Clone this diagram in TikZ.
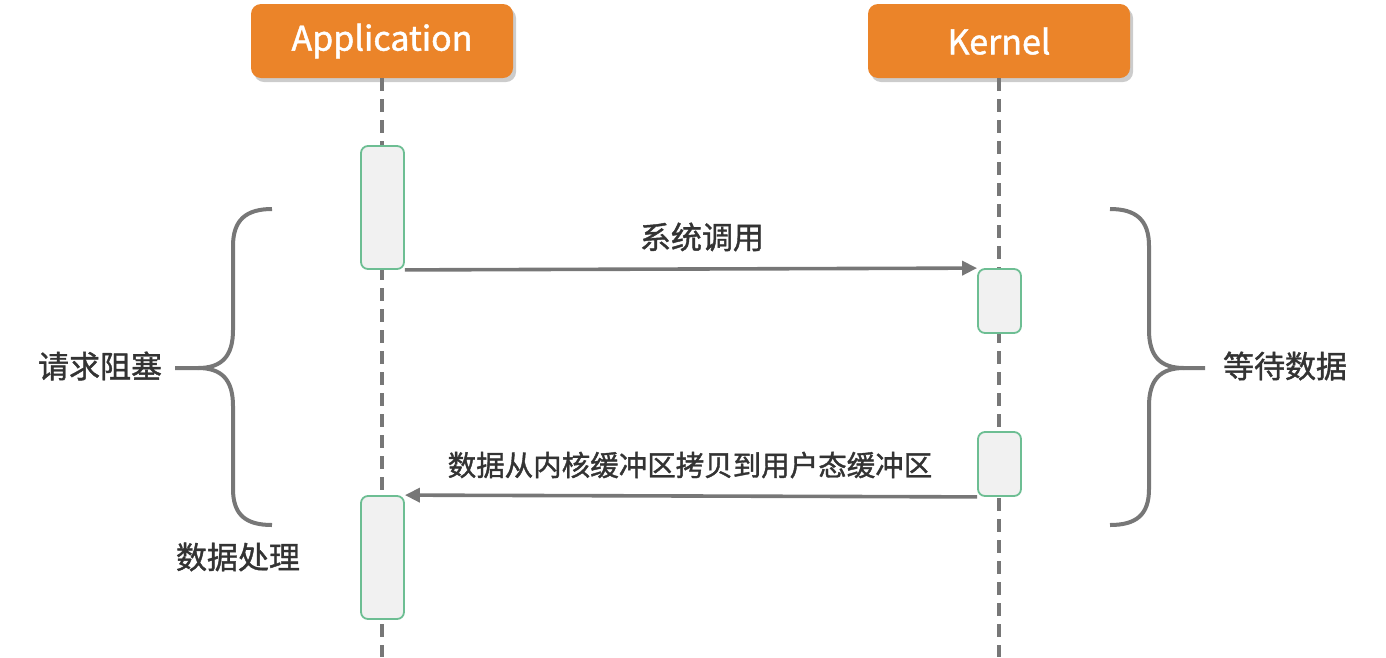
\documentclass[tikz,border=0pt]{standalone}
\usepackage{fontspec}
\setmainfont{Noto Sans CJK SC}
\newfontfamily\medf{Noto Sans CJK SC}[FakeBold=1.3]
\usetikzlibrary{arrows.meta,shadows}
\definecolor{hdr}{HTML}{EB8429}
\definecolor{actb}{HTML}{6DBE93}
\definecolor{actf}{HTML}{F1F1F1}
\definecolor{ln}{HTML}{777777}
\definecolor{txt}{HTML}{333333}
\tikzset{
  header/.style={draw=none, fill=hdr, rounded corners=10pt, minimum width=262pt, minimum height=74pt,
    text=white, font=\medf\fontsize{34}{36}\selectfont, inner sep=0pt,
    drop shadow={shadow xshift=3pt, shadow yshift=-4pt, opacity=0.2, fill=black}},
  act/.style={draw=actb, fill=actf, line width=1.8pt, rounded corners=7pt, minimum width=43pt, inner sep=0pt},
  life/.style={draw=ln, line width=3.6pt, dash pattern=on 13pt off 8pt},
  msg/.style={draw=ln, line width=3.6pt, -{Triangle[length=15pt,width=14pt]}},
  lbl/.style={text=txt, font=\medf\fontsize{31}{34}\selectfont, inner sep=0pt},
  brace/.style={draw=ln, line width=4pt}
}
\begin{document}
\begin{tikzpicture}[x=1pt,y=-1pt]
\useasboundingbox (0,0) rectangle (1386,657);
\node[header] (app) at (382,41) {Application};
\node[header] (ker) at (999,41) {Kernel};
\coordinate (append) at (382,657);
\coordinate (kerend) at (999,657);
\draw[life] (app.south) -- (append);
\draw[life] (ker.south) -- (kerend);
\node[act, minimum height=123pt] (a1) at (382.5,207.5) {};
\node[act, minimum height=64pt] (k1) at (999.5,301) {};
\node[act, minimum height=64pt] (k2) at (999.5,464) {};
\node[act, minimum height=123pt] (a2) at (382.5,557.5) {};
\draw[msg] (a1.south east) -- (k1.north west);
\draw[msg] (k2.south west) -- (a2.north east);
\node[lbl] (l1) at (702,237) {系统调用};
\node[lbl, font=\medf\fontsize{28.5}{32}\selectfont] (l2) at (690,465) {数据从内核缓冲区拷贝到用户态缓冲区};
\draw[brace] (272,209) .. controls (246,209) and (233,220) .. (233,246) -- (233,330)
  .. controls (233,356) and (222,368) .. (198,368) -- (175,368);
\draw[brace] (198,368) .. controls (222,368) and (233,380) .. (233,406) -- (233,489)
  .. controls (233,515) and (246,525) .. (272,525);
\draw[brace] (1110,209) .. controls (1136,209) and (1149,220) .. (1149,246) -- (1149,330)
  .. controls (1149,356) and (1160,368) .. (1184,368) -- (1205,368);
\draw[brace] (1184,368) .. controls (1160,368) and (1149,380) .. (1149,406) -- (1149,489)
  .. controls (1149,515) and (1136,525) .. (1110,525);
\node[lbl] (b1) at (100,366) {请求阻塞};
\node[lbl] (b2) at (1285,366) {等待数据};
\node[lbl] (b3) at (238,557) {数据处理};
\end{tikzpicture}
\end{document}
